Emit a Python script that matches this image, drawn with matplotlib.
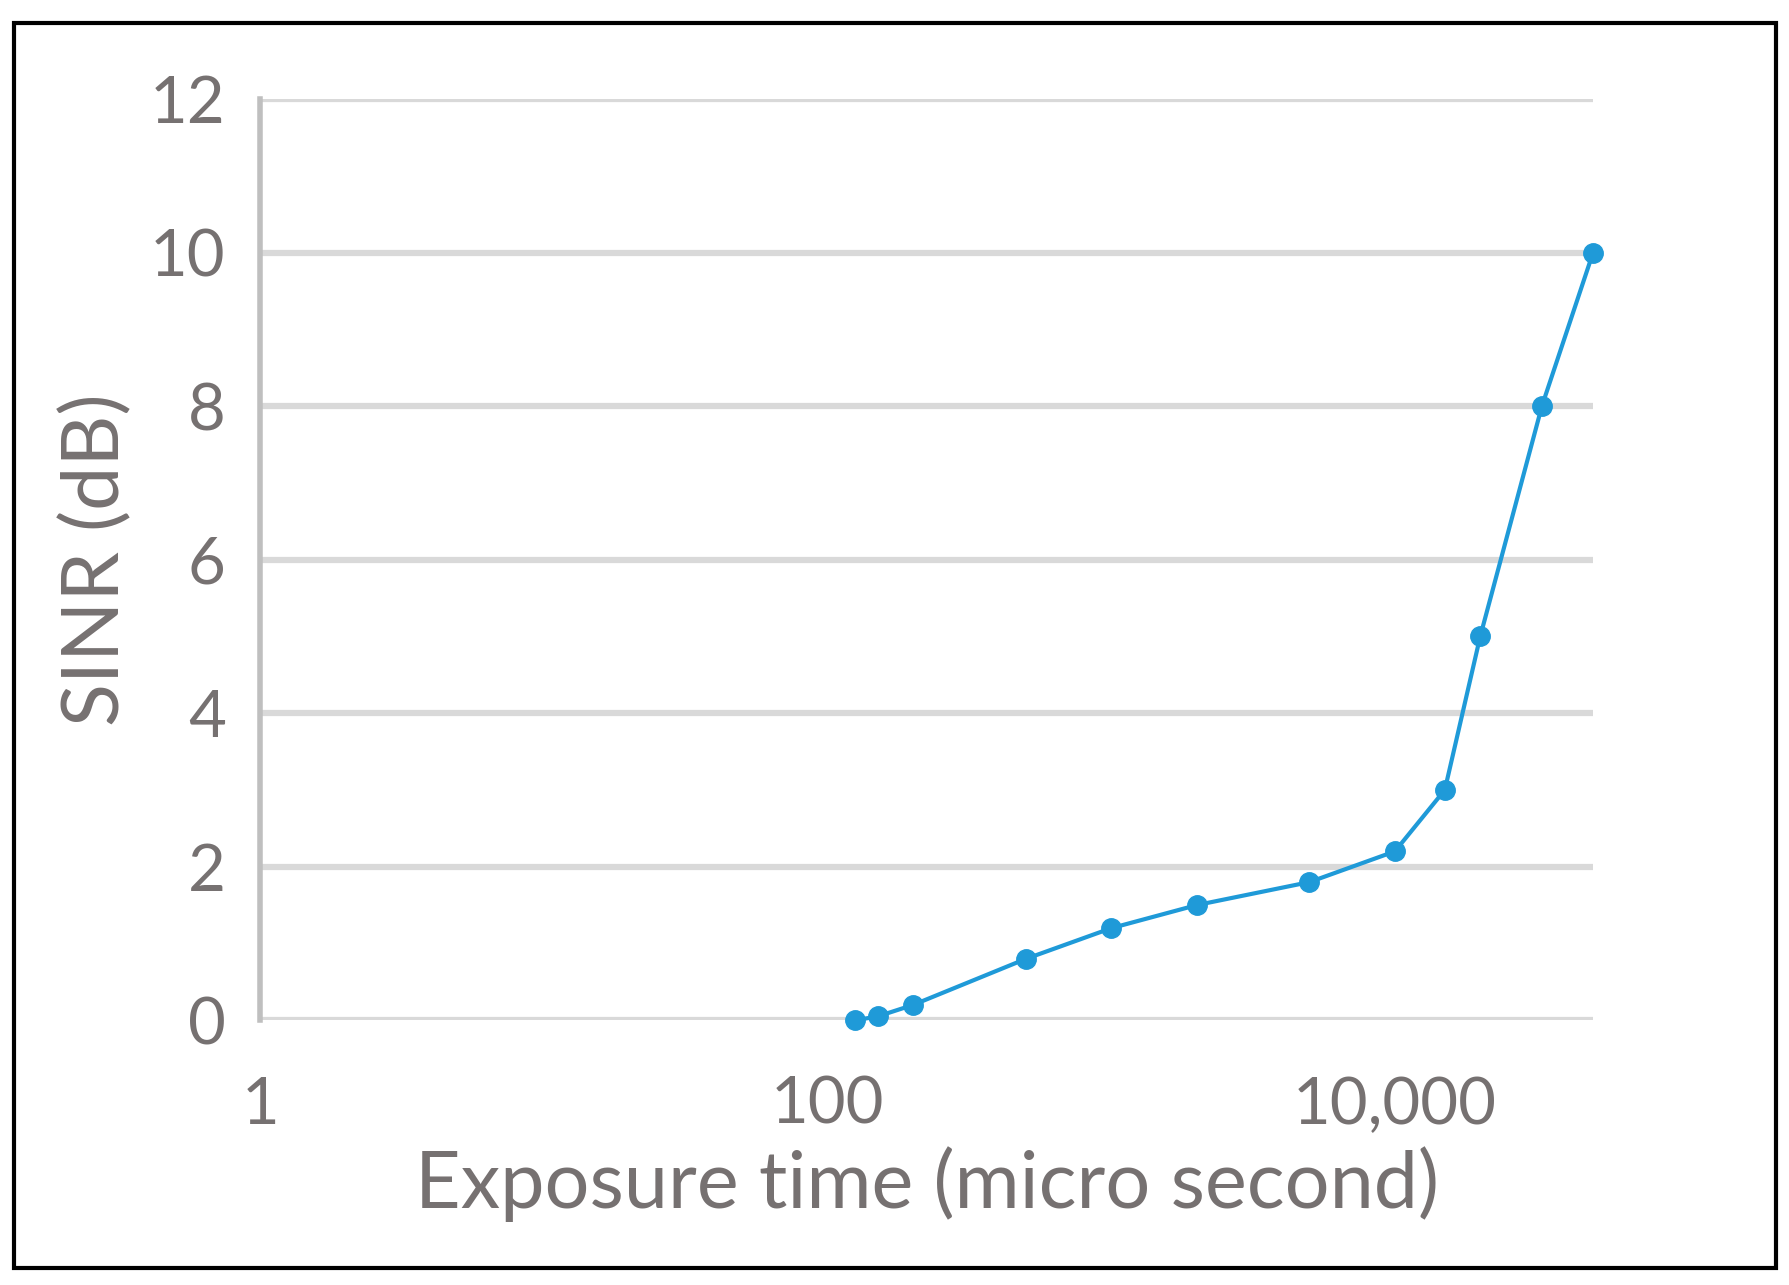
import matplotlib
matplotlib.use("Agg")
import matplotlib.pyplot as plt
from matplotlib.patches import Rectangle
from matplotlib.ticker import FixedLocator, NullLocator

exposure = [125, 150, 200, 500, 1000, 2000, 5000, 10000, 15000, 20000, 33000, 50000]
sinr = [0, 0.05, 0.2, 0.8, 1.2, 1.5, 1.8, 2.2, 3, 5, 8, 10]
xticks = [1, 100, 10000]
xticklabels = ["1", "100", "10,000"]
yticks = [0, 2, 4, 6, 8, 10, 12]

plt.rcParams['font.family'] = ['Lato', 'DejaVu Sans']
gray = "#767171"
grid = "#d9d9d9"

fig = plt.figure(figsize=(17.9, 12.85), dpi=100)
ax = fig.add_axes([0.1455, 0.206, 0.7445, 0.717])
ax.set_xscale("log")
ax.set_xlim(1, 50000)
ax.set_ylim(0, 12)
ax.plot(exposure, sinr, color="#1f9ad8", lw=3, marker="o", ms=14, zorder=3, clip_on=False)
ax.yaxis.set_major_locator(FixedLocator(yticks))
ax.xaxis.set_major_locator(FixedLocator(xticks))
ax.xaxis.set_minor_locator(NullLocator())
ax.set_xticklabels(xticklabels)
ax.grid(axis="y", color=grid, lw=4.5)
ax.set_axisbelow(True)
for s in ["top", "right", "bottom"]:
    ax.spines[s].set_visible(False)
ax.spines["left"].set_color("#bfbfbf")
ax.spines["left"].set_linewidth(4)
ax.tick_params(length=0, labelsize=47, colors=gray, pad=25)
ax.tick_params(axis="x", pad=40)
ax.set_xlabel("Exposure time (micro second)", fontsize=57, color=gray, labelpad=8)
ax.set_ylabel("SINR (dB)", fontsize=57, color=gray, labelpad=12)

fig.patches.append(Rectangle((12/1560, 1-1105/1120), (1548-12)/1560, (1105-20)/1120,
                             transform=fig.transFigure, fill=False, ec="black", lw=3))
fig.savefig("out.png", dpi=100)
